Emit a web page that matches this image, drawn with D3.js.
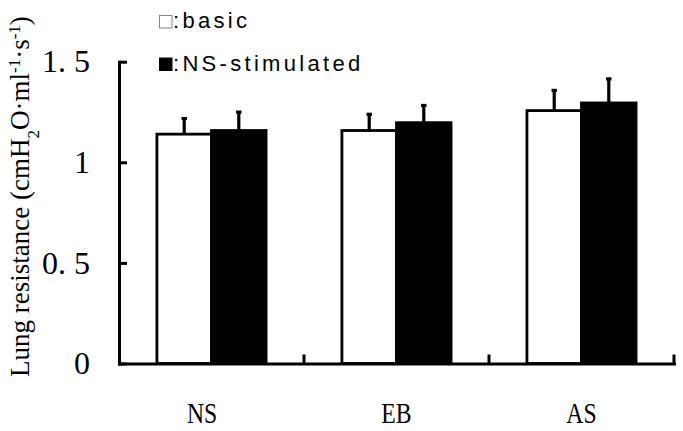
<!DOCTYPE html>
<html><head><meta charset="utf-8">
<script src="https://cdn.jsdelivr.net/npm/d3@7"></script>
<style>html,body{margin:0;padding:0;background:#fff;} svg{display:block}</style>
</head><body><svg id="c" width="683" height="431"></svg>
<script>
const categories = ["NS", "EB", "AS"];
const seriesKeys = ["basic", "stim"];
const seriesLabels = [":basic", ":NS-stimulated"];
const basicValues = [1.14, 1.158, 1.257];
const stimValues = [1.158, 1.197, 1.295];
const basicErrors = [0.083, 0.086, 0.106];
const stimErrors = [0.097, 0.091, 0.125];
const yTickValues = [0, 0.5, 1, 1.5];
const yTickLabels = ["0", "0. 5", "1", "1. 5"];

const values = { basic: basicValues, stim: stimValues };
const errors = { basic: basicErrors, stim: stimErrors };
const fills = { basic: "#fff", stim: "#000" };

const svg = d3.select("#c");
const plotLeft = 119, plotRight = 674, plotTop = 61.7, plotBottom = 363.5;

const y = d3.scaleLinear().domain([0, 1.5]).range([plotBottom, plotTop]);
const x = d3.scaleBand().domain(categories).range([plotLeft, plotRight]).paddingInner(0).paddingOuter(0);
const xs = d3.scaleBand().domain(seriesKeys).range([0, x.bandwidth()]).paddingInner(0).paddingOuter(0.695);

// bars
const rows = [];
categories.forEach((c, i) => seriesKeys.forEach(s => rows.push({ c, s, v: values[s][i], e: errors[s][i] })));

svg.append("g").selectAll("rect").data(rows).join("rect")
  .attr("x", d => x(d.c) + xs(d.s))
  .attr("y", d => y(d.v))
  .attr("width", xs.bandwidth())
  .attr("height", d => y(0) - y(d.v))
  .attr("fill", d => fills[d.s])
  .attr("stroke", "#000")
  .attr("stroke-width", 2.8);

// error bars
const eb = svg.append("g");
eb.selectAll("line").data(rows).join("line")
  .attr("x1", d => x(d.c) + xs(d.s) + xs.bandwidth() / 2)
  .attr("x2", d => x(d.c) + xs(d.s) + xs.bandwidth() / 2)
  .attr("y1", d => y(d.v))
  .attr("y2", d => y(d.v + d.e))
  .attr("stroke", "#000").attr("stroke-width", 3.2);
eb.selectAll("rect").data(rows).join("rect")
  .attr("x", d => x(d.c) + xs(d.s) + xs.bandwidth() / 2 - 2.7)
  .attr("y", d => y(d.v + d.e) - 0.5)
  .attr("width", 5.4).attr("height", 3.2).attr("fill", "#000");

// y axis
const ya = svg.append("g").attr("transform", `translate(${plotLeft},0)`)
  .call(d3.axisLeft(y).tickValues(yTickValues).tickFormat((d, i) => yTickLabels[i])
    .tickSizeInner(-8).tickSizeOuter(0).tickPadding(29));
ya.select(".domain").attr("stroke-width", 3).attr("stroke-linecap", "square");
ya.selectAll(".tick line").attr("stroke-width", 3);
ya.selectAll(".tick text").attr("font-family", "'Liberation Serif', serif").attr("font-size", 32)
  .attr("fill", "#000").style("white-space", "pre");

// x axis
const xa = svg.append("g").attr("transform", `translate(0,${plotBottom})`)
  .call(d3.axisBottom(x).tickSize(0).tickSizeOuter(0).tickPadding(0));
xa.select(".domain").attr("stroke-width", 3).attr("stroke-linecap", "square");
xa.selectAll(".tick text").attr("font-family", "'Liberation Serif', serif").attr("font-size", 30)
  .attr("fill", "#000").attr("dy", null).attr("y", 59.5)
  .attr("dx", (d, i) => i === 0 ? -12 : 0)
  .attr("transform", "scale(0.79,1)");
xa.selectAll("line.bound").data(categories).join("line").attr("class", "bound")
  .attr("x1", d => x(d) + x.bandwidth()).attr("x2", d => x(d) + x.bandwidth())
  .attr("y1", 0).attr("y2", -9).attr("stroke", "#000").attr("stroke-width", 3);

// legend
const lg = svg.append("g");
seriesKeys.forEach((s, i) => {
  const ly = 28 + i * 42.5;
  lg.append("rect").attr("x", 159.5).attr("y", ly - 12.5).attr("width", 12.5).attr("height", 12.5)
    .attr("fill", fills[s]).attr("stroke", s === "basic" ? "#888" : "#000").attr("stroke-width", 1);
  lg.append("text").attr("x", 173).attr("y", ly).text(seriesLabels[i])
    .attr("font-family", "'Liberation Sans', Arial, sans-serif").attr("font-size", 22)
    .attr("letter-spacing", 3.3).attr("fill", "#000");
});

// y label
const yl = svg.append("text").attr("transform", "translate(29,196.5) rotate(-90)")
  .attr("text-anchor", "middle").attr("font-family", "'Liberation Serif', serif")
  .attr("font-size", 27).attr("fill", "#000");
yl.append("tspan").text("Lung resistance (cmH");
yl.append("tspan").attr("baseline-shift", "sub").attr("font-size", 17).text("2");
yl.append("tspan").text("O·ml");
yl.append("tspan").attr("baseline-shift", "super").attr("font-size", 17).text("-1");
yl.append("tspan").text("·s");
yl.append("tspan").attr("baseline-shift", "super").attr("font-size", 17).text("-1");
yl.append("tspan").text(")");
</script></body></html>
